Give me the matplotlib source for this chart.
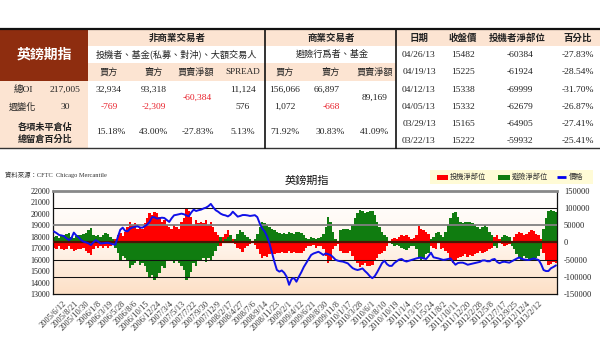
import numpy as np
import matplotlib
matplotlib.use('Agg')
import matplotlib.pyplot as plt
from matplotlib.patches import Rectangle
from matplotlib.colors import LinearSegmentedColormap

plt.rcParams['font.family'] = ['Liberation Serif', 'Noto Sans CJK TC']

# ---------------- table data ----------------
title = '英鎊期指'
noncomm_header = '非商業交易者'
noncomm_sub = '投機者、基金(私募、對沖)、大額交易人'
comm_header = '商業交易者'
comm_sub = '避險行爲者、基金'
col_heads1 = ['買方', '賣方', '買賣淨額', 'SPREAD']
col_heads2 = ['買方', '賣方', '買賣淨額']
row_labels = ['總OI', '週變化']
row_label_vals = ['217,005', '30']
pct_label = ['各項未平倉佔', '總留倉百分比']
noncomm_oi = ['32,934', '93,318', '11,124']
noncomm_chg = ['-769', '-2,309', '576']
noncomm_net = '-60,384'
noncomm_pct = ['15.18%', '43.00%', '-27.83%', '5.13%']
comm_oi = ['156,066', '66,897']
comm_chg = ['1,072', '-668']
comm_net = '89,169'
comm_pct = ['71.92%', '30.83%', '41.09%']
hist_heads = ['日期', '收盤價', '投機者淨部位', '百分比']
hist_dates = ['04/26/13', '04/19/13', '04/12/13', '04/05/13', '03/29/13', '03/22/13']
hist_close = ['15482', '15225', '15338', '15332', '15165', '15222']
hist_net = ['-60384', '-61924', '-69999', '-62679', '-64905', '-59932']
hist_pct = ['-27.83%', '-28.54%', '-31.70%', '-26.87%', '-27.41%', '-25.41%']

# ---------------- chart data (bi-weekly) ----------------
chart_title = '英鎊期指'
source_text = '資料來源：CFTC  Chicago Mercantile'
legend_labels = ['投機淨部位', '避險淨部位', '價格']
tick_labels = ['2005/6/12', '2005/8/21', '2005/10/30', '2006/1/8', '2006/3/19', '2006/5/28',
               '2006/8/6', '2006/10/15', '2006/12/24', '2007/3/4', '2007/5/13', '2007/7/22',
               '2007/9/30', '2007/12/9', '2008/2/17', '2008/4/27', '2008/7/6', '2008/9/14',
               '2008/11/23', '2009/2/1', '2009/4/12', '2009/6/21', '2009/8/30', '2009/11/8',
               '2010/1/17', '2010/3/28', '2010/6/1', '2010/8/10', '2010/10/19', '2011/1/4',
               '2011/3/15', '2011/5/24', '2011/8/2', '2011/10/11', '2011/12/20', '2012/2/28',
               '2012/5/8', '2012/7/17', '2012/9/25', '2012/12/4', '2013/2/12']

price = [18430, 18300, 18140, 18100, 18040, 17850, 17700, 17850, 18350, 18100,
         17930, 17700, 17560, 17500, 17410, 17270, 17500, 17700, 17550, 17400,
         17420, 17450, 17460, 17400, 17330, 17300, 17970, 18600, 18780, 18500,
         18460, 18700, 18800, 18850, 18900, 18800, 18780, 18900, 19050, 19300,
         19700, 19680, 19570, 19600, 19650, 19620, 19450, 19280, 19600, 19860,
         19900, 19950, 20000, 19950, 19850, 19770, 20100, 20350, 20230, 20300,
         20350, 20450, 20520, 20650, 20850, 20550, 20300, 20170, 20000, 19900,
         19850, 19760, 19900, 20170, 19950, 19740, 19800, 19880, 19880, 19850,
         19800, 19830, 19870, 19700, 19150, 18700, 18450, 18000, 17400, 16600,
         15800, 15100, 14950, 15050, 14850, 14500, 13800, 14300, 14400, 14070,
         14510, 14900, 15350, 15700, 16050, 16400, 16530, 16600, 16680, 16550,
         16400, 16540, 16470, 16390, 16200, 15980, 15900, 15850, 15820, 15750,
         15670, 15450, 15250, 15150, 15090, 15150, 15230, 15000, 14800, 14550,
         14380, 14550, 14900, 15300, 15700, 15900, 15600, 15450, 15450, 15700,
         15850, 16000, 16050, 15900, 15830, 15900, 15980, 16050, 16100, 16150,
         16170, 16100, 16050, 16300, 16600, 16200, 16150, 16100, 16030, 15970,
         16000, 16050, 16100, 15800, 15550, 15700, 15730, 15730, 15650, 15550,
         15600, 15650, 15700, 15750, 15800, 15920, 15930, 15850, 15850, 16000,
         16050, 15800, 15680, 15780, 15810, 15770, 15730, 15850, 15970, 16080,
         16180, 16080, 16010, 15980, 15960, 16030, 16100, 16030, 15960, 15600,
         15090, 15000, 15000, 15240, 15350, 15482]

spec_net = [-15, -18, -12, -20, -22, -18, -10, -20, -25, -22,
            -18, -20, -15, -25, -30, -37, -20, -12, -15, -10,
            -17, -12, -15, -10, -5, 10, 20, 26, 18, 30,
            45, 60, 50, 55, 40, 45, 38, 55, 70, 84,
            80, 89, 85, 75, 60, 65, 50, 45, 40, 50,
            45, 40, 60, 70, 99, 90, 75, 50, 65, 55,
            60, 55, 65, 50, 60, 45, 30, 20, -10, 15,
            25, 36, 20, 10, -5, -15, -20, -27, -15, -10,
            -5, 5, -8, -20, -35, -46, -40, -42, -35, -30,
            -35, -30, -32, -28, -30, -32, -25, -30, -28, -32,
            -30, -32, -25, -15, -10, -12, -8, -15, -10, -12,
            -20, -40, -61, -50, -20, -10, -5, -25, -30, -32,
            -30, -25, -40, -55, -60, -71, -65, -60, -70, -68,
            -65, -55, -45, -35, -30, -25, -10, 5, 10, 12,
            10, 15, 20, 18, 21, 15, 10, 12, 20, 47,
            40, 35, 30, 25, -10, -15, -20, 10, -20, -15,
            -25, -30, -50, -61, -55, -45, -42, -40, -35, -42,
            -38, -40, -35, -30, -25, -30, -28, -25, -20, -15,
            15, 21, 10, -5, -10, -8, -5, 5, 15, 25,
            31, 28, 20, 25, 30, 36, 32, 25, 20, 10,
            -30, -50, -66, -62, -58, -60.384]

hedge_net = [15, 18, 12, 20, 21, 25, 28, 15, 12, 18,
             20, 22, 25, 28, 35, 41, 20, 18, 21, 15,
             20, 26, 24, 15, 10, -15, -30, -51, -40, -45,
             -55, -75, -65, -60, -55, -66, -60, -70, -85, -100,
             -95, -109, -100, -90, -70, -75, -51, -55, -50, -60,
             -55, -60, -70, -80, -109, -100, -85, -60, -70, -55,
             -50, -45, -56, -45, -51, -40, -25, -10, 15, 5,
             10, 15, 21, 5, 10, 25, 36, 30, 20, 15,
             10, 5, 10, 25, 45, 60, 55, 50, 45, 40,
             35, 30, 26, 25, 28, 25, 30, 26, 24, 30,
             31, 28, 20, 12, 10, 15, 12, 10, 12, 15,
             25, 45, 75, 60, 30, 10, 5, 35, 40, 40,
             38, 35, 50, 70, 85, 94, 90, 85, 88, 92,
             90, 80, 60, 45, 30, 20, 15, 5, -5, -10,
             -8, -12, -15, -20, -22, -15, -10, -12, -20, -45,
             -51, -45, -35, -30, 10, 15, 26, 31, 20, 15,
             30, 50, 70, 84, 89, 75, 60, 55, 58, 60,
             60, 55, 50, 45, 40, 45, 50, 45, 30, 20,
             -10, -15, 5, 15, 21, 18, 15, -10, -20, -35,
             -45, -51, -40, -45, -50, -55, -50, -45, -40, -20,
             40, 70, 90, 94, 92, 89.169]

# ---------------- figure ----------------
W, H = 600, 361
fig = plt.figure(figsize=(W / 100, H / 100), dpi=100)

tab = fig.add_axes([0, 0, 1, 1])
tab.set_xlim(0, W)
tab.set_ylim(H, 0)
tab.axis('off')
tab.patch.set_alpha(0)

PEACH = '#fce4d2'
MAROON = '#8e2d0f'
RED = '#e8202a'
CJK = ['Noto Sans CJK TC', 'DejaVu Sans']
SER = ['Liberation Serif', 'Noto Sans CJK TC']

def rect(x0, y0, x1, y1, c):
    tab.add_patch(Rectangle((x0, y0), x1 - x0, y1 - y0, facecolor=c, edgecolor='none', zorder=0))

def txt(x, y, s, size=6.8, color='#222222', fam=SER, weight='normal'):
    tab.text(x, y, s, ha='center', va='center', fontsize=size, color=color,
             family=fam, fontweight=weight)

# backgrounds
rect(0, 29, 88, 81, MAROON)
rect(0, 81, 88, 147.5, PEACH)
rect(88, 29, 396, 46, PEACH)
rect(88, 63, 396, 81, PEACH)
rect(396, 29, 600, 46, PEACH)

# borders
tab.plot([0, 600], [29, 29], color='#111111', lw=1.6)
tab.plot([0, 600], [147.5, 147.5], color='#333333', lw=1.0)
tab.plot([265, 265], [29, 147.5], color='#111111', lw=1.2)
tab.plot([396, 396], [29, 147.5], color='#111111', lw=1.2)

# left header
txt(44, 55, title, size=10, color='white', fam=CJK, weight='bold')

# non-commercial
txt(177, 37.5, noncomm_header, size=6.8, fam=CJK, weight='bold')
txt(176, 54.5, noncomm_sub, size=6.6, fam=CJK)
xs1 = [109, 154, 196, 243]
for x, s in zip(xs1, col_heads1):
    txt(x, 72, s, size=6.6, fam=CJK if s != 'SPREAD' else SER)
# commercial
txt(331, 37.5, comm_header, size=6.8, fam=CJK, weight='bold')
txt(332, 54.5, comm_sub, size=6.6, fam=CJK)
xs2 = [285, 331, 375]
for x, s in zip(xs2, col_heads2):
    txt(x, 72, s, size=6.6, fam=CJK)

# row labels
txt(23, 90, row_labels[0], size=6.8, fam=SER)
txt(22, 107, row_labels[1], size=6.6, fam=CJK)
txt(65, 90, row_label_vals[0], size=6.8)
txt(65, 107, row_label_vals[1], size=6.8)
txt(45, 127, pct_label[0], size=6.6, fam=CJK, weight='bold')
txt(45, 139.5, pct_label[1], size=6.6, fam=CJK, weight='bold')

# non-commercial values
txt(109, 90, noncomm_oi[0]); txt(154, 90, noncomm_oi[1]); txt(243, 90, noncomm_oi[2])
txt(109, 107, noncomm_chg[0], color=RED); txt(154, 107, noncomm_chg[1], color=RED)
txt(243, 107, noncomm_chg[2])
txt(197, 98, noncomm_net, color=RED)
for x, s in zip([111, 154, 198, 243], noncomm_pct):
    txt(x, 132, s)
# commercial values
txt(285, 90, comm_oi[0]); txt(327, 90, comm_oi[1])
txt(285, 107, comm_chg[0]); txt(331, 107, comm_chg[1], color=RED)
txt(375, 98, comm_net)
for x, s in zip([285, 330, 375], comm_pct):
    txt(x, 132, s)

# history table
hx = [419, 463, 517, 578]
for x, s in zip(hx, hist_heads):
    txt(x, 37.5, s, size=6.8, fam=CJK, weight='bold')
ry = [55, 72.5, 90, 107, 124, 141]
for i in range(6):
    txt(hx[0], ry[i], hist_dates[i])
    txt(hx[1], ry[i], hist_close[i])
    txt(520, ry[i], hist_net[i])
    txt(hx[3], ry[i], hist_pct[i])

# source + title + legend
tab.text(5, 175, source_text, ha='left', va='center', fontsize=4.6, color='#333333', family=SER)
tab.text(307, 181, chart_title, ha='center', va='center', fontsize=8, color='#111111', family=CJK)
rect(430, 170, 593, 184, '#fffbd6')
rect(437, 174.5, 448, 180, '#ff0000')
tab.text(450, 177.3, legend_labels[0], ha='left', va='center', fontsize=5.2, color='#333333', family=CJK)
rect(498, 174.5, 510, 180, '#107c10')
tab.text(512, 177.3, legend_labels[1], ha='left', va='center', fontsize=5.2, color='#333333', family=CJK)
tab.plot([557, 566], [177.3, 177.3], color='#0000ee', lw=2, solid_capstyle='butt')
tab.text(569, 177.3, legend_labels[2], ha='left', va='center', fontsize=5.2, color='#333333', family=CJK)

# ---------------- chart ----------------
x0, x1, yt, yb = 53, 557, 190.7, 294
ax = fig.add_axes([x0 / W, 1 - yb / H, (x1 - x0) / W, (yb - yt) / H])
n = len(price)
x = np.arange(n)
grad = np.linspace(1, 0, 256).reshape(-1, 1)
cmap = LinearSegmentedColormap.from_list('bg', ['#fde0c6', '#fff6ee', '#ffffff'])
ax.imshow(grad, extent=[-0.5, n - 0.5, -150000, 150000], aspect='auto', cmap=cmap,
          origin='upper', zorder=0, vmin=0, vmax=1)
spec = np.array(spec_net) * 1000
hedge = np.array(hedge_net) * 1000
ax.bar(x, spec, width=1.0, color='#ff0000', linewidth=0, zorder=2)
ax.bar(x, hedge, width=1.0, color='#107c10', linewidth=0, zorder=2)
for v, c, lw in [(100000, '#111111', 0.75), (50000, '#808080', 1.3), (-50000, '#111111', 0.75),
                 (-100000, '#111111', 0.75)]:
    ax.axhline(v, color=c, lw=lw, zorder=3)
ax.axhline(0, color='#4a1505', lw=1.6, zorder=3)
ax.set_xlim(-0.5, n - 0.5)
ax.set_ylim(-150000, 150000)
ax.set_xticks(np.linspace(3.3, 198, len(tick_labels)))
ax.set_xticklabels(tick_labels, rotation=45, ha='right', va='top', rotation_mode='anchor',
                   fontsize=6, family=SER, color='#333333')
ax.tick_params(axis='x', length=0, pad=4)
for s in ['left', 'right', 'bottom']:
    ax.spines[s].set_color('#111111')
    ax.spines[s].set_linewidth(0.9)
ax.spines['top'].set_color('#888888')
ax.spines['top'].set_linewidth(2)

ax2 = ax.twinx()
ax2.plot(x, price, color='#1010e8', lw=1.4, zorder=5)
ax2.set_ylim(13000, 22000)
for s in ax2.spines.values():
    s.set_visible(False)

# right axis (positions) and left axis (price)
ax.yaxis.tick_right()
ax.set_yticks(np.arange(-150000, 150001, 50000))
ax.set_yticklabels([str(v) for v in range(-150000, 150001, 50000)], fontsize=6, family=SER, color='#222222')
ax.tick_params(axis='y', length=0, pad=5)
ax2.yaxis.tick_left()
ax2.set_yticks(np.arange(13000, 22001, 1000))
ax2.set_yticklabels([str(v) for v in range(13000, 22001, 1000)], fontsize=5.8, family=SER, color='#222222')
ax2.tick_params(axis='y', length=0, pad=2)

fig.savefig('out.png', dpi=100)
